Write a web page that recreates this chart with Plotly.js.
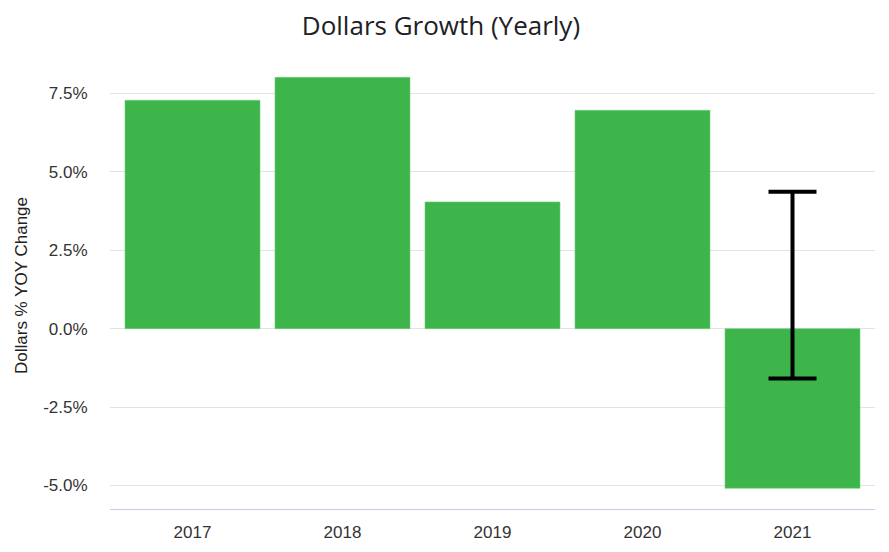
<!DOCTYPE html>
<html>
<head>
<meta charset="utf-8">
<script src="https://cdn.plot.ly/plotly-3.0.1.min.js"></script>
<style>html,body{margin:0;padding:0;background:#fff;}#chart{width:889px;height:552px;}</style>
</head>
<body>
<div id="chart"></div>
<script>
const years = ['2017', '2018', '2019', '2020', '2021'];
const yoyChange = [7.28, 8.01, 4.04, 6.96, -5.09];
const errorLow = [null, null, null, null, -1.59];
const errorHigh = [null, null, null, null, 4.36];
const tickValues = [-5, -2.5, 0, 2.5, 5, 7.5];
const tickLabels = ['-5.0%', '-2.5%', '0.0%', '2.5%', '5.0%', '7.5%'];

const errCenter = errorLow.map((lo, i) => (lo === null ? null : (lo + errorHigh[i]) / 2));
const errHalf = errorLow.map((lo, i) => (lo === null ? null : (errorHigh[i] - lo) / 2));

const axisFont = { family: '"Liberation Sans", Arial, sans-serif', size: 17, color: '#333333' };

const traces = [
  {
    type: 'bar',
    x: years,
    y: yoyChange,
    marker: { color: '#3db54a', line: { color: '#6fd07a', width: 0.6 } },
    hoverinfo: 'x+y'
  },
  {
    type: 'scatter',
    mode: 'markers',
    x: years,
    y: errCenter,
    marker: { opacity: 0, size: 1 },
    error_y: { type: 'data', array: errHalf, visible: true, color: '#000000', thickness: 4, width: 24 },
    hoverinfo: 'skip'
  }
];

const layout = {
  width: 889,
  height: 552,
  paper_bgcolor: '#ffffff',
  plot_bgcolor: '#ffffff',
  showlegend: false,
  bargap: 0.1,
  margin: { l: 110, r: 14, t: 62, b: 43 },
  title: {
    text: 'Dollars Growth (Yearly)',
    x: 0.496,
    xanchor: 'center',
    y: 0.953,
    yanchor: 'middle',
    font: { family: '"Open Sans", Roboto, sans-serif', size: 26, color: '#202124' }
  },
  xaxis: {
    type: 'category',
    range: [-0.55, 4.55],
    showgrid: false,
    showline: true,
    linecolor: '#c9cbe6',
    linewidth: 1,
    ticks: 'outside',
    ticklen: 8,
    tickcolor: 'rgba(0,0,0,0)',
    tickfont: axisFont,
    fixedrange: true
  },
  yaxis: {
    range: [-5.75, 8.5],
    tickvals: tickValues,
    ticktext: tickLabels,
    showgrid: true,
    gridcolor: '#e3e3e3',
    gridwidth: 1,
    zeroline: true,
    zerolinecolor: '#e3e3e3',
    zerolinewidth: 1,
    showline: false,
    ticks: 'outside',
    ticklen: 18,
    tickcolor: 'rgba(0,0,0,0)',
    tickfont: axisFont,
    title: {
      text: 'Dollars % YOY Change',
      standoff: 11,
      font: { family: '"Liberation Sans", Arial, sans-serif', size: 17, color: '#222222' }
    },
    fixedrange: true
  }
};

Plotly.newPlot('chart', traces, layout, { displayModeBar: false, staticPlot: true });
</script>
</body>
</html>
